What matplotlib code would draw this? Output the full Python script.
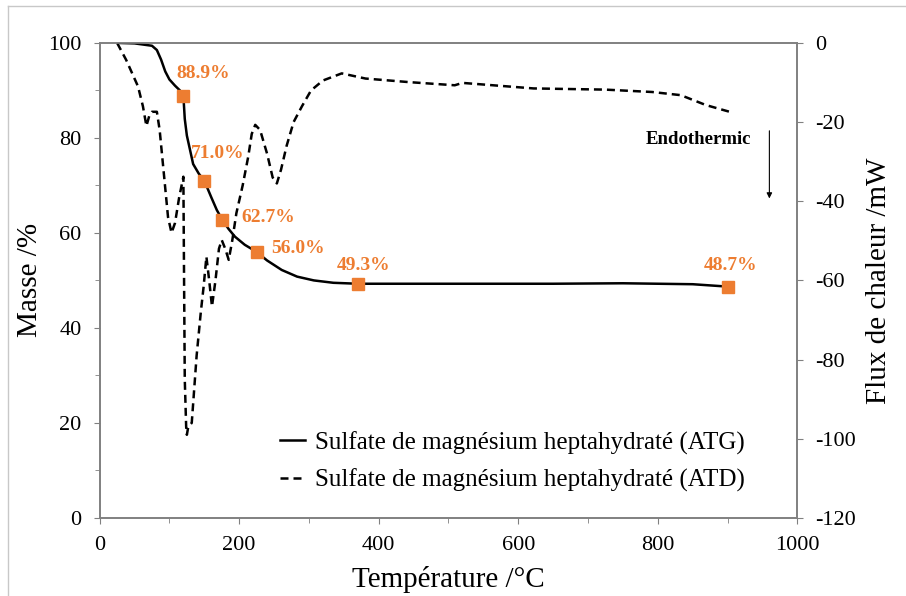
import matplotlib
matplotlib.use("Agg")
import matplotlib.pyplot as plt
from matplotlib.ticker import MultipleLocator
from matplotlib.lines import Line2D

# ATG curve (mass loss)
atg_temp = [26, 50, 75, 82, 88, 94, 100, 108, 115, 120, 122, 125, 128, 134, 142, 150, 160, 168,
            176, 185, 194, 208, 225, 240, 261, 283, 307, 335, 370, 450, 550, 650, 750, 800,
            850, 880, 900]
atg_mass = [100, 99.9, 99.4, 98.5, 96.5, 94.0, 92.3, 91.0, 90.0, 88.9, 84.0, 80.5, 78.5, 74.5,
            72.5, 71.0, 67.5, 64.8, 62.7, 60.8, 59.2, 57.5, 56.0, 54.2, 52.2, 50.8, 50.0, 49.5,
            49.3, 49.3, 49.3, 49.3, 49.4, 49.3, 49.2, 48.9, 48.7]

# labelled points on the ATG curve
mark_temp = [120, 150, 176, 225, 370, 900]
mark_mass = [88.9, 71.0, 62.7, 56.0, 49.3, 48.7]
mark_text = ["88.9%", "71.0%", "62.7%", "56.0%", "49.3%", "48.7%"]

# ATD curve (heat flow)
atd_temp = [25, 38, 55, 62, 67, 71, 75, 82, 86, 92, 98, 103, 108, 114, 120, 121, 122, 124, 125,
            127, 132, 139, 145, 149, 153, 157, 161, 166, 171, 175, 180, 185, 190, 196, 205, 213,
            218, 223, 230, 240, 248, 254, 260, 268, 278, 290, 303, 320, 347, 381, 443, 509, 520,
            622, 725, 792, 833, 869, 903]
atd_flux = [0, -4.3, -11, -16, -21, -18.5, -17.4, -17.4, -22, -33, -44, -48, -45.5, -39, -33.8,
            -60, -85, -97, -99, -97, -96, -79, -68, -61.6, -54, -60, -66.6, -60, -52, -49.8, -52,
            -54.8, -50, -43, -36, -28.7, -23, -20.7, -22, -28, -34, -35.5, -32, -26, -20, -16,
            -12, -9.5, -7.7, -9.0, -9.9, -10.7, -10.1, -11.5, -11.8, -12.4, -13.2, -15.7, -17.4]

orange = "#ED7D31"
grey = "#808080"
serif = ["Liberation Serif", "DejaVu Serif"]
dash = (0, (3.2, 2.0))

plt.rcParams["font.family"] = serif
plt.rcParams["axes.unicode_minus"] = False

fig = plt.figure(figsize=(9.06, 5.96), dpi=100)
ax = fig.add_axes([0.110, 0.131, 0.770, 0.797])
ax2 = ax.twinx()

ax.plot(atg_temp, atg_mass, color="black", lw=1.8, solid_capstyle="round")
ax.plot(mark_temp, mark_mass, linestyle="none", marker="s", markersize=9, color=orange)
offsets = [(29, 4.7), (19, 5.7), (66, 0.6), (60, 0.8), (8, 3.9), (5, 4.5)]
for t, m, s, (dx, dy) in zip(mark_temp, mark_mass, mark_text, offsets):
    ax.text(t + dx, m + dy, s, color=orange, fontsize=14, fontweight="bold",
            ha="center", va="center")

ax2.plot(atd_temp, atd_flux, color="black", lw=1.8, linestyle=dash)

ax.set_zorder(ax2.get_zorder() + 1)
ax.patch.set_visible(False)

ax.set_xlim(0, 1000)
ax.set_ylim(0, 100)
ax2.set_ylim(-120, 0)
ax.xaxis.set_major_locator(MultipleLocator(200))
ax.xaxis.set_minor_locator(MultipleLocator(100))
ax.yaxis.set_major_locator(MultipleLocator(20))
ax.yaxis.set_minor_locator(MultipleLocator(10))
ax2.yaxis.set_major_locator(MultipleLocator(20))

for a in (ax, ax2):
    for sp in a.spines.values():
        sp.set_color(grey)
        sp.set_linewidth(1.2)
    a.tick_params(which="both", color=grey, labelsize=16, pad=9)
    a.tick_params(which="major", length=4)
    a.tick_params(which="minor", length=3.5)

ax.set_xlabel("Température /°C", fontsize=21, labelpad=8)
ax.set_ylabel("Masse /%", fontsize=21, labelpad=4)
ax2.set_ylabel("Flux de chaleur /mW", fontsize=21, labelpad=7)

ax2.text(858, -24.5, "Endothermic", fontsize=13.5, fontweight="bold", ha="center", va="center")
ax2.annotate("", xy=(960, -40), xytext=(960, -21.5),
             arrowprops=dict(arrowstyle="-|>", color="black", lw=0.8, mutation_scale=8))

handles = [Line2D([], [], color="black", lw=1.8),
           Line2D([], [], color="black", lw=1.8, linestyle=dash)]
labels = ["Sulfate de magnésium heptahydraté (ATG)",
          "Sulfate de magnésium heptahydraté (ATD)"]
ax.legend(handles, labels, loc="center left", bbox_to_anchor=(280 / 906, 1 - 461.5 / 596),
          bbox_transform=fig.transFigure, frameon=False, borderpad=0, borderaxespad=0,
          fontsize=18, handlelength=1.0, handletextpad=0.4, labelspacing=0.55)

# thin frame around the picture
fig.add_artist(Line2D([8 / 906, 1], [1 - 6 / 596, 1 - 6 / 596], color="#c8c8c8", lw=1,
                      transform=fig.transFigure))
fig.add_artist(Line2D([8 / 906, 8 / 906], [0, 1 - 6 / 596], color="#c8c8c8", lw=1,
                      transform=fig.transFigure))

fig.savefig("out.png", dpi=100)
